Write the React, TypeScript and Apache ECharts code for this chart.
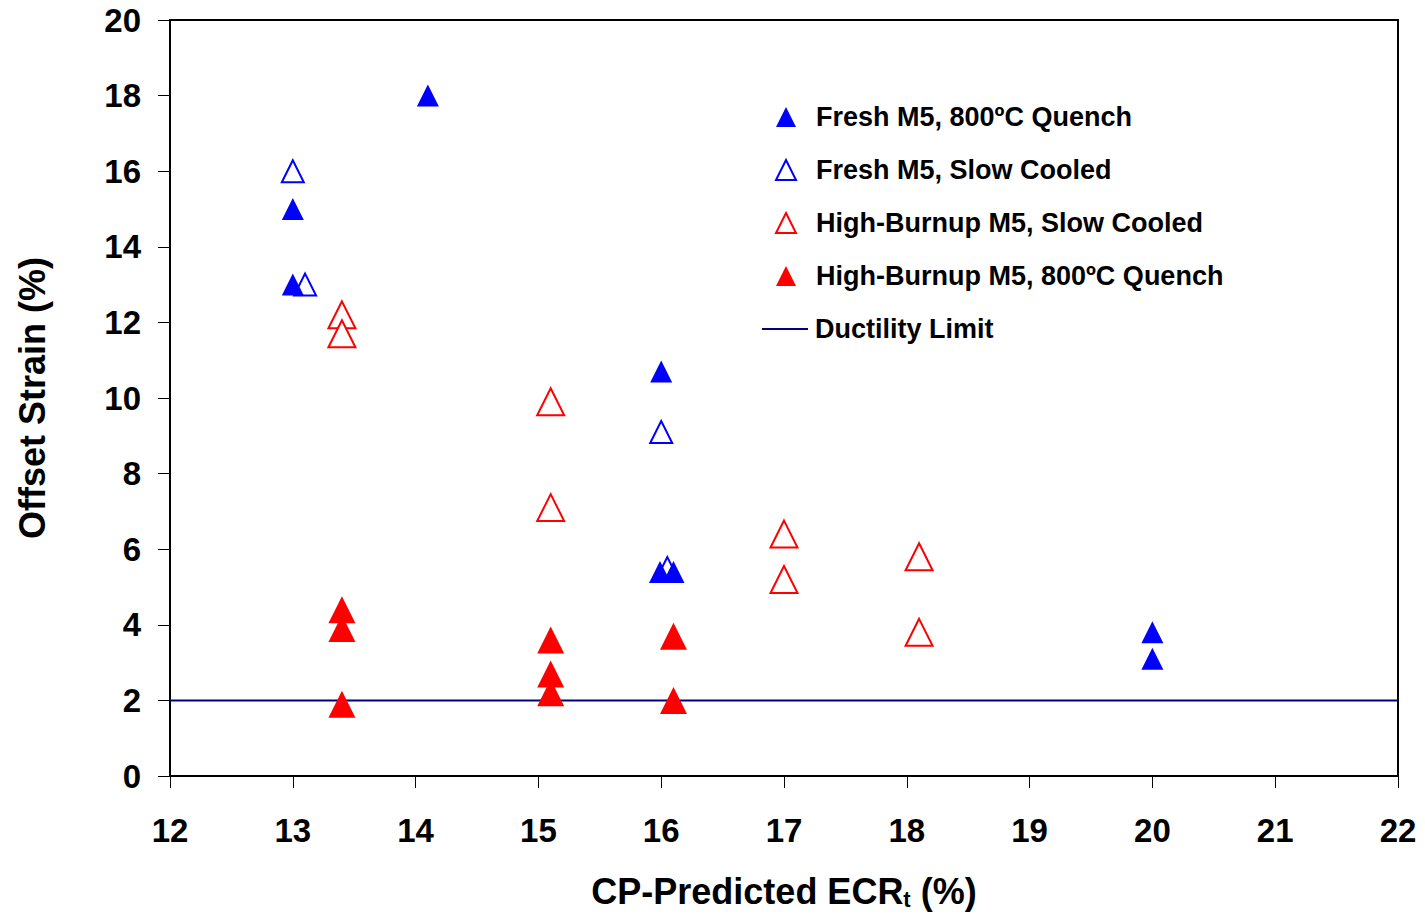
import React, { useEffect, useRef } from "react";
import * as echarts from "echarts";

const freshQuench: [number, number][] = [
  [13, 15], [13, 13], [14.1, 18], [16, 10.7], [15.99, 5.4], [16.1, 5.4], [20, 3.8], [20, 3.1],
];
const freshSlow: [number, number][] = [
  [13, 16], [13.1, 13], [16, 9.1], [16.05, 5.5],
];
const hbSlow: [number, number][] = [
  [13.4, 12.2], [13.4, 11.7], [15.1, 9.9], [15.1, 7.1], [17, 6.4], [17, 5.2], [18.1, 5.8], [18.1, 3.8],
];
const hbQuench: [number, number][] = [
  [13.4, 4.4], [13.4, 3.9], [13.4, 1.9], [15.1, 3.6], [15.1, 2.7], [15.1, 2.2], [16.1, 3.7], [16.1, 2.0],
];
const ductility: [number, number][] = [[12, 2], [22, 2]];

const names = [
  "Fresh M5, 800ºC Quench",
  "Fresh M5, Slow Cooled",
  "High-Burnup M5, Slow Cooled",
  "High-Burnup M5, 800ºC Quench",
  "Ductility Limit",
];

const FONT = "'Liberation Sans', Arial, sans-serif";

export default function App() {
  const ref = useRef<HTMLDivElement>(null);
  useEffect(() => {
    if (!ref.current) return;
    const chart = echarts.init(ref.current, null, { renderer: "svg" });
    const legendText = { fontFamily: FONT, fontSize: 27, fontWeight: "bold", color: "#000", lineHeight: 28 };
    chart.setOption({
      animation: false,
      backgroundColor: "#ffffff",
      textStyle: { fontFamily: FONT },
      grid: {
        left: 170, right: 27, top: 20, bottom: 140,
        show: true, borderColor: "#000", borderWidth: 2, backgroundColor: "transparent",
      },
      legend: [
        {
          data: names.slice(0, 4),
          orient: "vertical",
          left: 775, top: 103, padding: 0,
          itemWidth: 20, itemHeight: 20, itemGap: 25,
          textStyle: { ...legendText, padding: [0, 0, 0, 15] },
        },
        {
          data: [{ name: names[4], icon: "path://M0,0 L46,0 L46,2 L0,2 Z" }],
          orient: "vertical",
          left: 762, top: 315, padding: 0,
          itemWidth: 46, itemHeight: 2,
          textStyle: { ...legendText, padding: [0, 0, 0, 2] },
        },
      ],
      xAxis: {
        type: "value", min: 12, max: 22, interval: 1,
        name: "CP-Predicted ECR{sub|t} (%)",
        nameLocation: "middle", nameGap: 96,
        nameTextStyle: {
          fontFamily: FONT, fontSize: 36, fontWeight: "bold", color: "#000",
          rich: { sub: { fontFamily: FONT, fontSize: 22, fontWeight: "bold", color: "#000", verticalAlign: "bottom", padding: [16, 0, 0, 0] } },
        },
        axisLine: { show: true, lineStyle: { color: "#000", width: 2 } },
        axisTick: { show: true, inside: false, length: 12, lineStyle: { color: "#000", width: 1 } },
        axisLabel: { fontFamily: FONT, fontSize: 33, fontWeight: "bold", color: "#000", margin: 38 },
        splitLine: { show: false },
      },
      yAxis: {
        type: "value", min: 0, max: 20, interval: 2,
        name: "Offset Strain (%)",
        nameLocation: "middle", nameGap: 120, nameRotate: 90,
        nameTextStyle: { fontFamily: FONT, fontSize: 36, fontWeight: "bold", color: "#000" },
        axisLine: { show: true, lineStyle: { color: "#000", width: 2 } },
        axisTick: { show: true, inside: false, length: 12, lineStyle: { color: "#000", width: 1 } },
        axisLabel: { fontFamily: FONT, fontSize: 33, fontWeight: "bold", color: "#000", margin: 29 },
        splitLine: { show: false },
      },
      series: [
        {
          name: names[4], type: "line", data: ductility, symbol: "none",
          lineStyle: { color: "#000080", width: 2 }, itemStyle: { color: "#000080" }, z: 1,
        },
        {
          name: names[0], type: "scatter", data: freshQuench, symbol: "triangle", symbolSize: 22,
          itemStyle: { color: "#0000ff", opacity: 1 }, z: 3,
        },
        {
          name: names[1], type: "scatter", data: freshSlow, symbol: "triangle", symbolSize: 22,
          itemStyle: { color: "#ffffff", borderColor: "#0000ff", borderWidth: 2, opacity: 1 }, z: 2,
        },
        {
          name: names[2], type: "scatter", data: hbSlow, symbol: "triangle", symbolSize: 27,
          itemStyle: { color: "#ffffff", borderColor: "#ff0000", borderWidth: 2, opacity: 1 }, z: 2,
        },
        {
          name: names[3], type: "scatter", data: hbQuench, symbol: "triangle", symbolSize: 27,
          itemStyle: { color: "#ff0000", opacity: 1 }, z: 3,
        },
      ],
    });
    return () => chart.dispose();
  }, []);
  return <div ref={ref} style={{ width: 1425, height: 916, position: "absolute", left: 0, top: 0 }} />;
}
